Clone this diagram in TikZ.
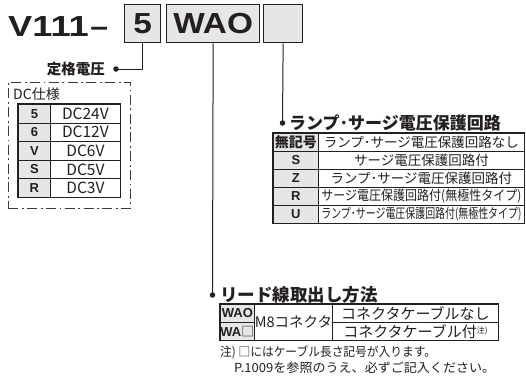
\documentclass[tikz,border=0pt]{standalone}
\usepackage{fontspec}
\setmainfont{Liberation Sans}
\newfontfamily\jp{Noto Sans CJK JP}
\newcommand{\fitto}[2]{\resizebox{#1}{\height}{#2}}
\definecolor{ink}{HTML}{231F20}
\definecolor{keyfill}{HTML}{E6E6E6}
\definecolor{framegray}{HTML}{3A3A3A}
\tikzset{
  selbox/.style={draw=ink, line width=1.3pt, fill=keyfill, inner sep=0pt, anchor=north west,
    minimum height=38pt, text=ink, font=\bfseries\fontsize{29}{29}\selectfont},
  cell/.style={draw=ink, line width=0.8pt, inner sep=0pt, anchor=north west, text=ink},
  keycell/.style={cell, fill=keyfill, font=\bfseries\fontsize{13}{13}\selectfont},
  valL/.style={cell, font=\jp\fontsize{15.5}{15.5}\selectfont},
  valR/.style={cell, font=\jp\fontsize{13.5}{13.5}\selectfont},
  outer/.style={draw=ink, line width=1.3pt},
  dot/.style={circle, fill=ink, inner sep=0pt, minimum size=5.5pt},
  conn/.style={draw=ink, line width=1pt},
  heading/.style={inner sep=0pt, text=ink, font=\jp\bfseries\fontsize{17}{17}\selectfont},
  note/.style={inner sep=0pt, anchor=west, text=ink, font=\jp\fontsize{12.5}{12.5}\selectfont},
  dcframe/.style={draw=framegray, line width=0.9pt, dash pattern=on 10pt off 3.5pt on 1.8pt off 3.5pt,
    inner sep=0pt, anchor=north west},
}
\begin{document}
\begin{tikzpicture}[x=1pt,y=-1pt]
\fill[white] (0,0) rectangle (526,376);
\useasboundingbox (0,0) rectangle (526,376);

% model code
\node[anchor=base west, inner sep=0pt, text=ink, font=\bfseries\fontsize{29}{29}\selectfont] (model) at (8,36)
  {\scalebox{1.25}[1]{V111}\kern1.5pt\scalebox{1.1}[1]{–}};
\node[selbox, minimum width=36pt] (b5) at (124,4) {\scalebox{1.15}[1]{5}};
\node[selbox, minimum width=93pt] (bW) at (166,4) {\scalebox{1.15}[1]{WAO}};
\node[selbox, minimum width=39pt] (bE) at (263,4) {};

% dots and connectors
\node[dot] (p1) at (116,69) {};
\node[dot] (p2) at (212.5,295) {};
\node[dot] (p3) at (282.5,123) {};
\draw[conn] (b5.south) |- (p1.center);
\draw[conn] (bW.south) -- (p2.center);
\draw[conn] (bE.south) -- (p3.center);

% headings
\node[heading, anchor=east, font=\jp\bfseries\fontsize{14.5}{14.5}\selectfont] (h1) at (105,69) {定格電圧};
\node[heading, anchor=west] (h3) at (289,123) {ランプ･サージ電圧保護回路};
\node[heading, anchor=west, font=\jp\bfseries\fontsize{17.5}{17.5}\selectfont] (h2) at (220,295) {リード線取出し方法};

% DC spec frame
\node[dcframe, minimum width=122pt, minimum height=126pt] (frame) at (8,82) {};
\node[anchor=west, inner sep=0pt, text=ink, font=\jp\fontsize{14}{14}\selectfont] (dct) at (13,94) {DC仕様};
\foreach \k/\v [count=\i from 0] in {5/DC24V,6/DC12V,V/DC6V,S/DC5V,R/DC3V} {
  \node[keycell, minimum width=32pt, minimum height=18.6pt] (lk\i) at (18,{104+18.6*\i}) {\k};
  \node[valL, minimum width=70pt, minimum height=18.6pt] (lv\i) at (50,{104+18.6*\i}) {\v};
}
\draw[outer] (lk0.north west) rectangle (lv4.south east);

% lamp / surge table
\node[keycell, minimum width=45pt, minimum height=17.9pt, font=\jp\bfseries\fontsize{14}{14}\selectfont] (rk0) at (273,133) {無記号};
\node[valR, minimum width=206pt, minimum height=17.9pt] (rv0) at (318,133) {ランプ･サージ電圧保護回路なし};
\node[keycell, minimum width=45pt, minimum height=17.9pt] (rk1) at (273,150.9) {S};
\node[valR, minimum width=206pt, minimum height=17.9pt] (rv1) at (318,150.9) {サージ電圧保護回路付};
\node[keycell, minimum width=45pt, minimum height=17.9pt] (rk2) at (273,168.8) {Z};
\node[valR, minimum width=206pt, minimum height=17.9pt] (rv2) at (318,168.8) {ランプ･サージ電圧保護回路付};
\node[keycell, minimum width=45pt, minimum height=17.9pt] (rk3) at (273,186.7) {R};
\node[valR, minimum width=206pt, minimum height=17.9pt] (rv3) at (318,186.7) {\fitto{200pt}{サージ電圧保護回路付(無極性タイプ)}};
\node[keycell, minimum width=45pt, minimum height=17.9pt] (rk4) at (273,204.6) {U};
\node[valR, minimum width=206pt, minimum height=17.9pt] (rv4) at (318,204.6) {\fitto{200pt}{ランプ･サージ電圧保護回路付(無極性タイプ)}};
\draw[outer] (rk0.north west) rectangle (rv4.south east);

% lead wire table
\node[keycell, minimum width=34pt, minimum height=18pt] (wk1) at (220,304) {WAO};
\node[keycell, minimum width=34pt, minimum height=18pt] (wk2) at (220,322) {WA{\jp\mdseries □}};
\node[cell, minimum width=78pt, minimum height=36pt, font=\jp\fontsize{14.5}{14.5}\selectfont] (wm) at (254,304) {M8コネクタ};
\node[cell, minimum width=166pt, minimum height=18pt, font=\jp\fontsize{15}{15}\selectfont] (wc1) at (332,304) {コネクタケーブルなし};
\node[cell, minimum width=166pt, minimum height=18pt, font=\jp\fontsize{15}{15}\selectfont] (wc2) at (332,322)
  {コネクタケーブル付\raisebox{4pt}{\fontsize{8}{8}\selectfont 注)}};
\draw[outer] (wk1.north west) rectangle (wc2.south east);

% notes
\node[note] (n1) at (220,352) {\fitto{216pt}{注) □にはケーブル長さ記号が入ります。}};
\node[note] (n2) at (234,368) {\fitto{261pt}{P.1009を参照のうえ、必ずご記入ください。}};
\end{tikzpicture}
\end{document}
